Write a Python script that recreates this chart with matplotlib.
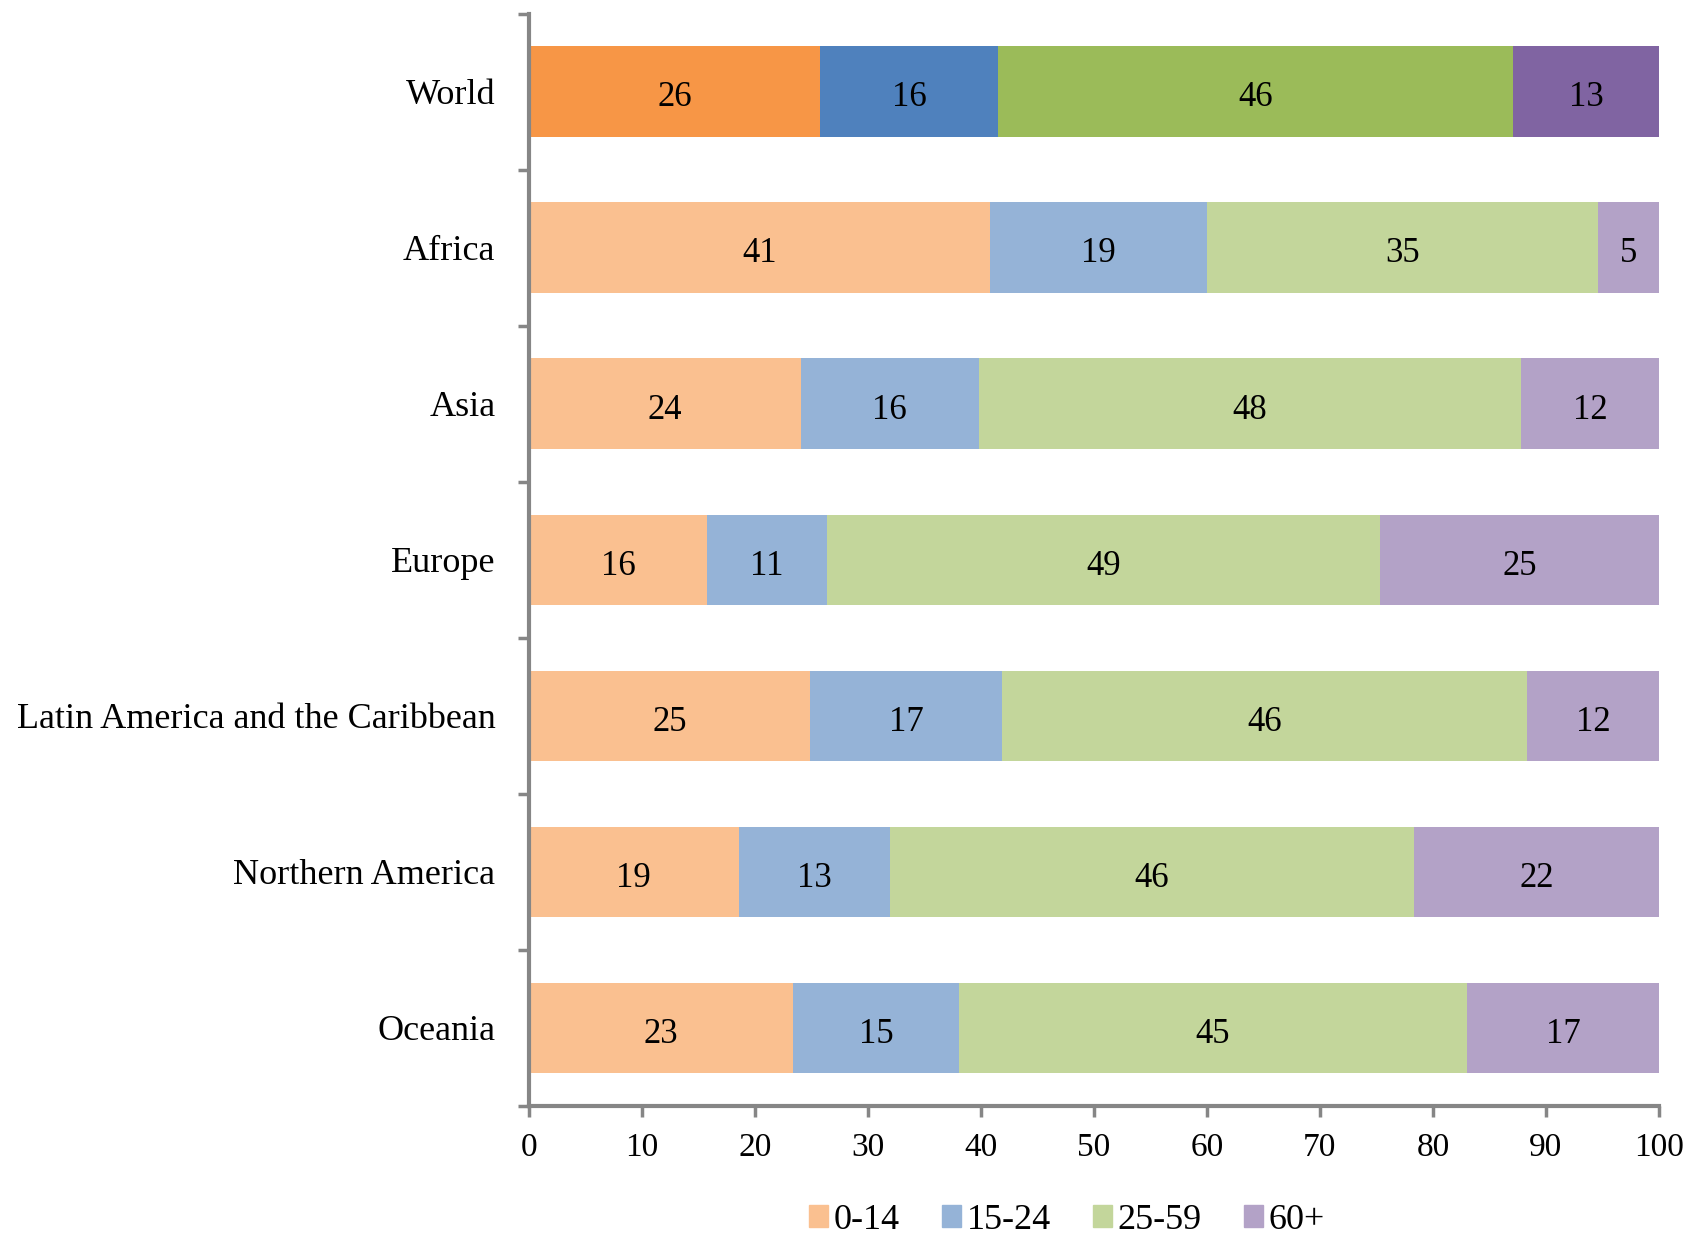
import matplotlib.pyplot as plt
import numpy as np

plt.rcParams["font.family"] = ["Liberation Serif", "DejaVu Serif"]

# Data (segment widths, % of population)
regions = ["World", "Africa", "Asia", "Europe",
           "Latin America and the Caribbean", "Northern America", "Oceania"]
groups = ["0-14", "15-24", "25-59", "60+"]
age_0_14 = [25.8, 40.8, 24.1, 15.8, 24.9, 18.6, 23.4]
age_15_24 = [15.7, 19.2, 15.7, 10.6, 17.0, 13.4, 14.7]
age_25_59 = [45.6, 34.6, 48.0, 48.9, 46.4, 46.3, 44.9]
age_60p = [12.9, 5.4, 12.2, 24.7, 11.7, 21.7, 17.0]

dark_colors = ["#F79646", "#4F81BD", "#9BBB59", "#8064A2"]
light_colors = ["#FAC090", "#95B3D7", "#C3D69B", "#B3A2C7"]

series = [age_0_14, age_15_24, age_25_59, age_60p]

fig = plt.figure(figsize=(16.88, 12.42), dpi=100)
ax = fig.add_axes([0.3132, 0.1095, 0.6696, 0.8796])

y = np.arange(len(regions))
left = np.zeros(len(regions))
for k, vals in enumerate(series):
    vals = np.array(vals)
    cols = [dark_colors[k] if i == 0 else light_colors[k] for i in range(len(regions))]
    ax.barh(y, vals, left=left, height=0.58, color=cols, label=groups[k])
    for i in range(len(regions)):
        ax.text(left[i] + vals[i] / 2, y[i] + 0.015, f"{vals[i]:.0f}",
                ha="center", va="center_baseline", fontsize=25)
    left += vals

ax.set_xlim(0, 100)
ax.set_ylim(len(regions) - 0.5, -0.5)
ax.set_xticks(np.arange(0, 101, 10))
ax.set_yticks(y)
ax.set_yticklabels(regions, fontsize=26)
for lab in ax.get_yticklabels():
    lab.set_verticalalignment("center_baseline")
ax.set_yticks(np.arange(-0.5, len(regions), 1), minor=True)
ax.tick_params(axis="y", which="major", length=0, pad=24)
ax.tick_params(axis="y", which="minor", length=8, width=2.5, color="#868686")
ax.tick_params(axis="x", labelsize=24, length=8, width=2.5, color="#868686", pad=11)

for s in ["top", "right"]:
    ax.spines[s].set_visible(False)
for s in ["left", "bottom"]:
    ax.spines[s].set_color("#868686")
    ax.spines[s].set_linewidth(3)

handles = [plt.Rectangle((0, 0), 1, 1, color=c) for c in light_colors]
fig.legend(handles, groups, loc="lower center", bbox_to_anchor=(0.632, -0.022),
           ncol=4, frameon=False, fontsize=26, handlelength=0.55, handleheight=0.55,
           handletextpad=0.15, columnspacing=1.15)

fig.savefig("out.png", dpi=100)
